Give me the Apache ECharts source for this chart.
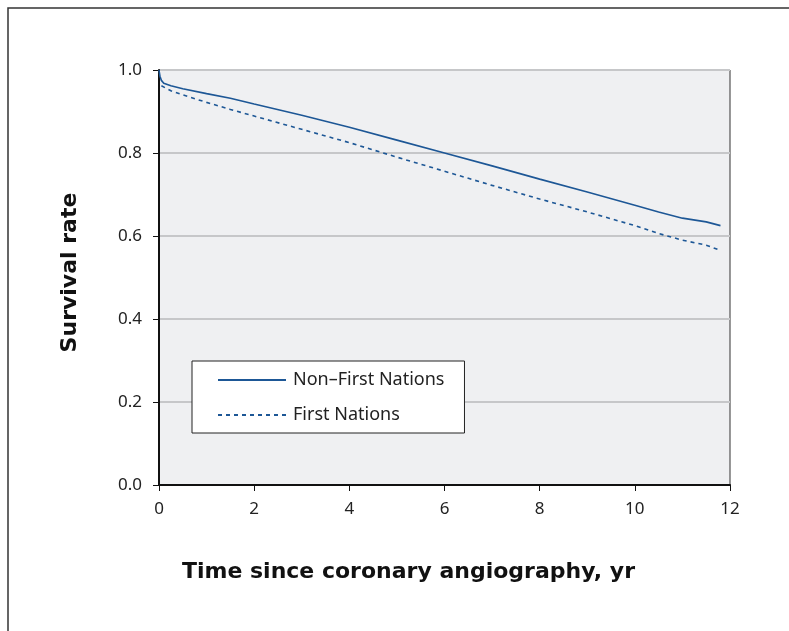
<!DOCTYPE html>
<html>
<head>
<meta charset="utf-8">
<script src="https://cdn.jsdelivr.net/npm/echarts@6/dist/echarts.min.js"></script>
<style>
  html, body { margin: 0; padding: 0; background: #fff; }
  #chart { width: 789px; height: 631px; }
</style>
</head>
<body>
<div id="chart"></div>
<script>
// survival curves
const nonFnTimes = [0, 0.02, 0.05, 0.1, 0.25, 0.5, 1, 1.5, 2, 3, 4, 5, 6, 7, 8, 9, 10, 10.5, 11, 11.5, 11.8];
const nonFnRate = [1.0, 0.985, 0.975, 0.968, 0.962, 0.955, 0.943, 0.932, 0.918, 0.891, 0.862, 0.831, 0.800, 0.769, 0.737, 0.706, 0.674, 0.658, 0.643, 0.634, 0.625];
const fnTimes = [0.05, 0.25, 0.5, 1, 1.5, 2, 3, 4, 5, 6, 7, 8, 9, 10, 10.5, 11, 11.5, 11.8];
const fnRate = [0.962, 0.950, 0.940, 0.922, 0.905, 0.889, 0.857, 0.825, 0.790, 0.756, 0.722, 0.689, 0.658, 0.625, 0.606, 0.590, 0.578, 0.565];
const seriesNames = ['Non\u2013First Nations', 'First Nations'];

const lineColor = '#1d5796';
const font = 'Noto Sans';

const chart = echarts.init(document.getElementById('chart'));

const pairs = (xs, ys) => xs.map((x, i) => [x, ys[i]]);

const option = {
  animation: false,
  graphic: [
    {
      type: 'rect',
      shape: { x: 8, y: 8, width: 900, height: 700 },
      style: { fill: 'none', stroke: '#333', lineWidth: 1.5 },
      silent: true
    }
  ],
  grid: {
    left: 159,
    right: 59,
    top: 70,
    bottom: 146,
    show: true,
    backgroundColor: '#eff0f2',
    borderColor: '#333',
    borderWidth: 1
  },
  legend: {
    data: seriesNames,
    orient: 'vertical',
    left: 192,
    top: 361,
    backgroundColor: '#fff',
    borderColor: '#222',
    borderWidth: 1,
    padding: [10, 20, 9, 25],
    itemWidth: 68,
    itemHeight: 14,
    itemGap: 17,
    itemStyle: { opacity: 0 },
    textStyle: { fontFamily: font, fontSize: 18, color: '#222', padding: [0, 0, 0, 2] }
  },
  xAxis: {
    type: 'value',
    min: 0,
    max: 12,
    interval: 2,
    name: 'Time since coronary angiography, yr',
    nameLocation: 'middle',
    nameGap: 76,
    nameTextStyle: {
      fontFamily: 'DejaVu Sans', fontWeight: 'bold', fontSize: 22, color: '#111',
      padding: [0, 72, 0, 0]
    },
    axisLine: { lineStyle: { color: '#111', width: 2 } },
    axisTick: { show: true, length: 6, lineStyle: { color: '#111' } },
    axisLabel: { fontFamily: font, fontSize: 17, color: '#222', margin: 16 },
    splitLine: { show: false }
  },
  yAxis: {
    type: 'value',
    min: 0,
    max: 1,
    interval: 0.2,
    name: 'Survival rate',
    nameLocation: 'middle',
    nameGap: 78,
    nameTextStyle: {
      fontFamily: 'DejaVu Sans', fontWeight: 'bold', fontSize: 22, color: '#111',
      padding: [0, 0, 0, 10]
    },
    axisLine: { show: true, lineStyle: { color: '#111', width: 2 } },
    axisTick: { show: true, length: 6, lineStyle: { color: '#111' } },
    axisLabel: {
      fontFamily: font, fontSize: 17, color: '#222', margin: 17,
      formatter: v => v.toFixed(1)
    },
    splitLine: { show: true, lineStyle: { color: '#c6c7c9', width: 2 } }
  },
  series: [
    {
      name: seriesNames[0],
      type: 'line',
      data: pairs(nonFnTimes, nonFnRate),
      showSymbol: false,
      symbol: 'none',
      lineStyle: { color: lineColor, width: 1.6 },
      itemStyle: { color: lineColor }
    },
    {
      name: seriesNames[1],
      type: 'line',
      data: pairs(fnTimes, fnRate),
      showSymbol: false,
      symbol: 'none',
      lineStyle: { color: lineColor, width: 1.6, type: [4, 4] },
      itemStyle: { color: lineColor }
    }
  ]
};

chart.setOption(option);
</script>
</body>
</html>
